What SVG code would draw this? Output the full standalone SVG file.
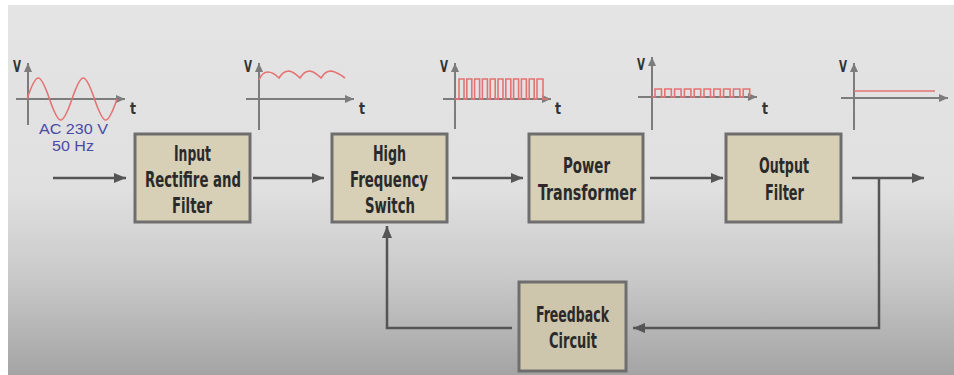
<svg xmlns="http://www.w3.org/2000/svg" width="954" height="375" viewBox="0 0 954 375">
<defs>
<linearGradient id="bg" gradientUnits="userSpaceOnUse" x1="0" y1="5" x2="0" y2="375">
<stop offset="0" stop-color="#e4e4e4"/>
<stop offset="0.5" stop-color="#e0e0e0"/>
<stop offset="0.72" stop-color="#cbcbcb"/>
<stop offset="1" stop-color="#a4a4a4"/>
</linearGradient>
<marker id="ah" markerUnits="userSpaceOnUse" markerWidth="13" markerHeight="11" refX="12" refY="5" orient="auto">
<path d="M0,0 L12,5 L0,10 z" fill="#555"/>
</marker>
<marker id="ax" markerUnits="userSpaceOnUse" markerWidth="10" markerHeight="9" refX="9" refY="4" orient="auto">
<path d="M0,0 L9,4 L0,8 z" fill="#7c7c7c"/>
</marker>
<style>
.box{fill:#d7cfb6;stroke:#6e6e6e;stroke-width:3}
.lbl{font-family:"DejaVu Sans Condensed","DejaVu Sans",sans-serif;font-weight:bold;font-size:22px;fill:#2a2a2a}
.con{fill:none;stroke:#555;stroke-width:2.5}
.axis{fill:none;stroke:#7c7c7c;stroke-width:2}
.sig{fill:none;stroke:#e57373;stroke-width:1.6}
.vt{font-family:"DejaVu Sans Condensed","DejaVu Sans",sans-serif;font-weight:bold;font-size:16px;fill:#333}
.ac{font-family:"Liberation Sans",Arial,sans-serif;font-size:14px;fill:#4a4aa6}
</style>
</defs>
<rect x="0" y="0" width="954" height="375" fill="#ffffff"/>
<rect x="8" y="5" width="946" height="370" fill="url(#bg)"/>

<g id="graph1">
<path class="axis" d="M28,125 V63" marker-end="url(#ax)"/>
<path class="axis" d="M16,99 H125" marker-end="url(#ax)"/>
<path class="sig" d="M27,99 C36.55,71 39.95,71 49.5,99 C59.05,127 62.45,127 72,99 C81.55,71 84.95,71 94.5,99 C104.05,127 107.45,127 117,99"/>
<text class="vt" x="13" y="72" textLength="8" lengthAdjust="spacingAndGlyphs">V</text>
<text class="vt" x="130" y="114" textLength="6" lengthAdjust="spacingAndGlyphs">t</text>
<text class="ac" x="39" y="134" textLength="69" lengthAdjust="spacingAndGlyphs">AC 230 V</text>
<text class="ac" x="52" y="151" textLength="42" lengthAdjust="spacingAndGlyphs">50 Hz</text>
</g>

<g id="graph2">
<path class="axis" d="M259,130 V63" marker-end="url(#ax)"/>
<path class="axis" d="M246,99 H354" marker-end="url(#ax)"/>
<path class="sig" d="M259,80 Q262,72 268,72 Q273,72 279,78 Q283,71 289,71 Q294,72 300,78 Q304,71 310,71 Q315,72 321,78 Q325,71 331,71 Q337,72 345,78"/>
<text class="vt" x="244" y="72" textLength="8" lengthAdjust="spacingAndGlyphs">V</text>
<text class="vt" x="359" y="114" textLength="6" lengthAdjust="spacingAndGlyphs">t</text>
</g>

<g id="graph3">
<path class="axis" d="M455,129 V63" marker-end="url(#ax)"/>
<path class="axis" d="M443,99 H551" marker-end="url(#ax)"/>
<path class="sig" d="M455,99 H459 V79 H464 V99 H466.8 V79 H471.8 V99 H474.6 V79 H479.6 V99 H482.4 V79 H487.4 V99 H490.2 V79 H495.2 V99 H498 V79 H503 V99 H505.8 V79 H510.8 V99 H513.6 V79 H518.6 V99 H521.4 V79 H526.4 V99 H529.2 V79 H534.2 V99 H537 V79 H543 V99 H548"/>
<text class="vt" x="440" y="72" textLength="8" lengthAdjust="spacingAndGlyphs">V</text>
<text class="vt" x="555" y="114" textLength="6" lengthAdjust="spacingAndGlyphs">t</text>
</g>

<g id="graph4">
<path class="axis" d="M652,130 V57" marker-end="url(#ax)"/>
<path class="axis" d="M638,97 H757" marker-end="url(#ax)"/>
<path class="sig" d="M652,97 H655 V89 H661.5 V97 H664.8 V89 H671.3 V97 H674.6 V89 H681.1 V97 H684.4 V89 H690.9 V97 H694.2 V89 H700.7 V97 H704 V89 H710.5 V97 H713.8 V89 H720.3 V97 H723.6 V89 H730.1 V97 H733.4 V89 H739.9 V97 H743.2 V89 H749.7 V97"/>
<text class="vt" x="637" y="70" textLength="8" lengthAdjust="spacingAndGlyphs">V</text>
<text class="vt" x="762" y="114" textLength="6" lengthAdjust="spacingAndGlyphs">t</text>
</g>

<g id="graph5">
<path class="axis" d="M854,130 V63" marker-end="url(#ax)"/>
<path class="axis" d="M841,98 H948" marker-end="url(#ax)"/>
<path class="sig" d="M854,91 H935"/>
<text class="vt" x="839" y="72" textLength="8" lengthAdjust="spacingAndGlyphs">V</text>
</g>

<g id="connectors">
<path class="con" d="M53,178 H126" marker-end="url(#ah)"/>
<path class="con" d="M253,178 H324" marker-end="url(#ah)"/>
<path class="con" d="M452,178 H523" marker-end="url(#ah)"/>
<path class="con" d="M650,178 H723" marker-end="url(#ah)"/>
<path class="con" d="M852,178 H924" marker-end="url(#ah)"/>
<path class="con" d="M879,178 V328 H633" marker-end="url(#ah)"/>
<path class="con" d="M512,328 H387 V226" marker-end="url(#ah)"/>
</g>

<g id="input-rectifier">
<rect class="box" x="135" y="134" width="115" height="88"/>
<text class="lbl" x="174" y="161" textLength="37" lengthAdjust="spacingAndGlyphs">Input</text>
<text class="lbl" x="145" y="187" textLength="96" lengthAdjust="spacingAndGlyphs">Rectifire and</text>
<text class="lbl" x="172" y="213" textLength="40" lengthAdjust="spacingAndGlyphs">Filter</text>
</g>

<g id="hf-switch">
<rect class="box" x="332" y="134" width="115" height="88"/>
<text class="lbl" x="373" y="161" textLength="33" lengthAdjust="spacingAndGlyphs">High</text>
<text class="lbl" x="350" y="187" textLength="78" lengthAdjust="spacingAndGlyphs">Frequency</text>
<text class="lbl" x="365" y="213" textLength="50" lengthAdjust="spacingAndGlyphs">Switch</text>
</g>

<g id="power-transformer">
<rect class="box" x="529" y="134" width="114" height="88"/>
<text class="lbl" x="563" y="173" textLength="47" lengthAdjust="spacingAndGlyphs">Power</text>
<text class="lbl" x="538" y="200" textLength="98" lengthAdjust="spacingAndGlyphs">Transformer</text>
</g>

<g id="output-filter">
<rect class="box" x="726" y="134" width="115" height="88"/>
<text class="lbl" x="759" y="173" textLength="50" lengthAdjust="spacingAndGlyphs">Output</text>
<text class="lbl" x="765" y="200" textLength="39" lengthAdjust="spacingAndGlyphs">Filter</text>
</g>

<g id="feedback">
<rect class="box" x="519" y="282" width="107" height="89" style="fill:#cdc5ac"/>
<text class="lbl" x="536" y="322" textLength="73" lengthAdjust="spacingAndGlyphs">Freedback</text>
<text class="lbl" x="549" y="348" textLength="48" lengthAdjust="spacingAndGlyphs">Circuit</text>
</g>
</svg>
